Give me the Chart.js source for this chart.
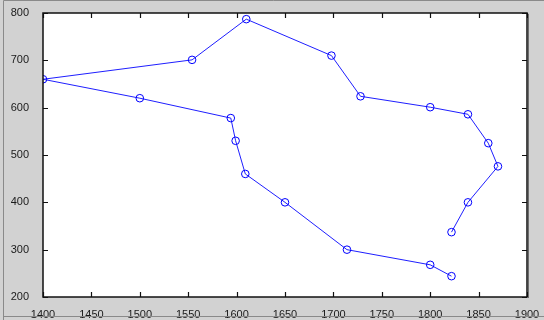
<!DOCTYPE html>
<html>
<head>
<meta charset="utf-8">
<script src="https://cdn.jsdelivr.net/npm/chart.js@4"></script>
<style>
  html, body { margin: 0; padding: 0; background: #d2d2d2; }
  #wrap { position: relative; width: 544px; height: 320px; }
</style>
</head>
<body>
<div id="wrap">
  <canvas id="c" width="544" height="320"></canvas>
</div>
<script>
  // path order
  const xValues = [1822, 1839, 1870, 1860, 1839, 1800, 1728, 1698, 1610, 1554,
                   1400, 1500, 1594, 1599, 1609, 1650, 1714, 1800, 1822]
  const yValues = [337, 400, 476, 525, 586, 601, 624, 710, 787, 701,
                   660, 620, 578, 530, 460, 400, 300, 268, 244]
  const xTicks = [1400, 1450, 1500, 1550, 1600, 1650, 1700, 1750, 1800, 1850, 1900]
  const yTicks = [200, 300, 400, 500, 600, 700, 800]

  const points = xValues.map((x, i) => ({ x: x, y: yValues[i] }))

  // white plot area, then matlab style box with inward ticks on top
  const matlabBox = {
    id: 'matlabBox',
    beforeDatasetsDraw(chart) {
      const a = chart.chartArea
      const ctx = chart.ctx
      ctx.save()
      ctx.fillStyle = '#ffffff'
      ctx.fillRect(a.left, a.top, a.right - a.left, a.bottom - a.top)
      ctx.restore()
    },
    afterDraw(chart) {
      const ctx = chart.ctx
      const a = chart.chartArea
      const xs = chart.scales.x, ys = chart.scales.y
      const len = 5
      const L = Math.round(a.left), R = Math.round(a.right)
      const T = Math.round(a.top), B = Math.round(a.bottom)
      ctx.save()
      ctx.setLineDash([])
      ctx.strokeStyle = '#101010'
      ctx.lineWidth = 1.5
      ctx.strokeRect(L, T, R - L, B - T)
      ctx.lineWidth = 1.2
      ctx.beginPath()
      xTicks.forEach(v => {
        const px = Math.round(xs.getPixelForValue(v)) + 0.5
        ctx.moveTo(px, B); ctx.lineTo(px, B - len)
        ctx.moveTo(px, T); ctx.lineTo(px, T + len)
      })
      yTicks.forEach(v => {
        const py = Math.round(ys.getPixelForValue(v)) + 0.5
        ctx.moveTo(L, py); ctx.lineTo(L + len, py)
        ctx.moveTo(R, py); ctx.lineTo(R - len, py)
      })
      ctx.stroke()
      // shadow right of the box
      ctx.lineWidth = 1
      ctx.strokeStyle = '#6e6e6e'
      ctx.beginPath()
      ctx.moveTo(R + 1.5, T + 1); ctx.lineTo(R + 1.5, B + 1)
      ctx.stroke()
      // outer frame of the figure window
      ctx.strokeStyle = '#8a8a8a'
      ctx.beginPath()
      ctx.moveTo(3.5, 320); ctx.lineTo(3.5, 0.5); ctx.lineTo(544, 0.5)
      ctx.moveTo(3.5, 316.5); ctx.lineTo(544, 316.5)
      ctx.stroke()
      ctx.restore()
    }
  }

  new Chart(document.getElementById('c'), {
    type: 'scatter',
    data: {
      datasets: [{
        data: points,
        showLine: true,
        borderColor: '#1f1fff',
        borderWidth: 1,
        pointStyle: 'circle',
        pointRadius: 3.8,
        pointBorderWidth: 1,
        pointBorderColor: '#0000ff',
        pointBackgroundColor: 'rgba(0,0,0,0)',
        tension: 0
      }]
    },
    options: {
      responsive: false,
      animation: false,
      events: [],
      layout: { padding: { top: 13, right: 17, left: 0, bottom: 0 } },
      plugins: { legend: { display: false }, tooltip: { enabled: false } },
      scales: {
        x: {
          type: 'linear',
          min: 1400, max: 1900,
          afterBuildTicks: s => { s.ticks = xTicks.map(v => ({ value: v })) },
          afterFit: s => { s.height = 23 },
          grid: { display: false },
          border: { display: false },
          ticks: { padding: 3, color: '#1a1a1a', font: { family: 'Liberation Sans', size: 11 },
                   maxRotation: 0, autoSkip: false, callback: v => String(v) }
        },
        y: {
          type: 'linear',
          min: 200, max: 800,
          afterBuildTicks: s => { s.ticks = yTicks.map(v => ({ value: v })) },
          afterFit: s => { s.width = 43 },
          grid: { display: false },
          border: { display: false },
          ticks: { padding: 6, color: '#1a1a1a', font: { family: 'Liberation Sans', size: 11 },
                   autoSkip: false, callback: v => String(v) }
        }
      }
    },
    plugins: [matlabBox]
  })
</script>
</body>
</html>
